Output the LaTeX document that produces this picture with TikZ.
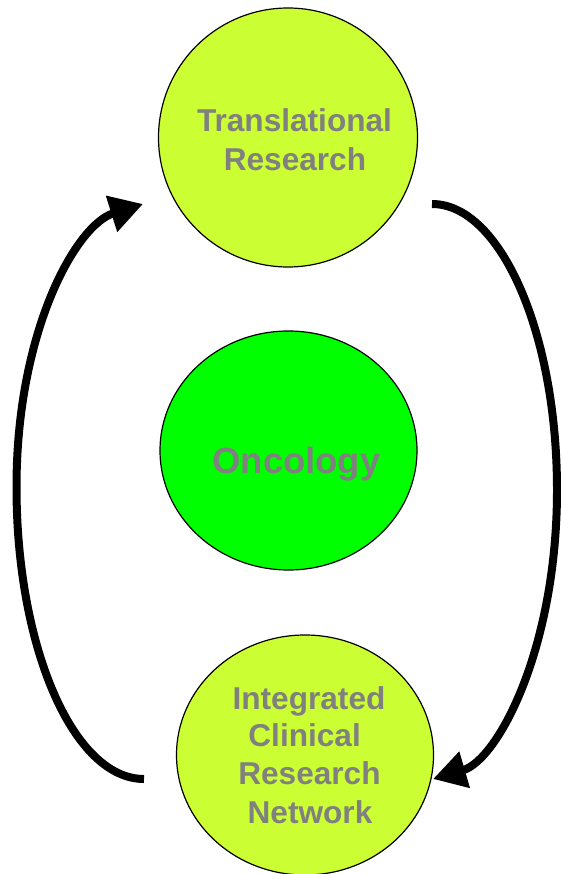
\documentclass[tikz,border=0pt]{standalone}
\usepackage{fontspec}
\setmainfont{Liberation Sans}
\usetikzlibrary{shapes.geometric,arrows.meta}
\definecolor{lime}{RGB}{204,255,51}
\definecolor{brightgreen}{RGB}{0,255,0}
\definecolor{txtgray}{RGB}{128,128,128}
\tikzset{
  blob/.style={ellipse, draw=black, line width=1.2pt, inner sep=0pt},
  lbl/.style={anchor=base, inner sep=0pt, text=txtgray, font=\bfseries\fontsize{31.6}{38}\selectfont},
  bigl/.style={anchor=base, inner sep=0pt, text=txtgray, font=\bfseries\fontsize{36.4}{43}\selectfont},
  cyc/.style={line width=8pt, -{Triangle[length=33pt,width=36pt]}}
}
\begin{document}
\begin{tikzpicture}[x=1pt,y=-1pt]
\useasboundingbox (0,0) rectangle (560,874);
\node[blob, fill=lime, minimum width=259pt, minimum height=259pt] (tr) at (288,137.5) {};
\node[blob, fill=brightgreen, minimum width=257pt, minimum height=239pt] (onc) at (288.5,450.5) {};
\node[blob, fill=lime, minimum width=257pt, minimum height=240pt] (icrn) at (305,755) {};
\node[lbl] (tr1) at (294.5,132) {Translational};
\node[lbl] (tr2) at (295,171) {Research};
\node[bigl] (onct) at (296.5,473) {Oncology};
\node[lbl] (ic1) at (309,709) {Integrated};
\node[lbl] (ic2) at (309,746) {Clinical\hspace*{0.278em}};
\node[lbl] (ic3) at (309.5,784) {Research};
\node[lbl] (ic4) at (310,823) {Network};
\coordinate (ls) at (144,779);
\coordinate (le) at (143,204);
\coordinate (rs) at (432,204);
\coordinate (re) at (433,779);
\draw[cyc] (ls) .. controls (73.6,779) and (16.5,648) .. (16.5,487)
  .. controls (16.5,331) and (76,225) .. (le);
\draw[cyc] (rs) .. controls (500,204) and (557,332) .. (557,490)
  .. controls (557,648) and (498,760) .. (re);
\end{tikzpicture}
\end{document}
